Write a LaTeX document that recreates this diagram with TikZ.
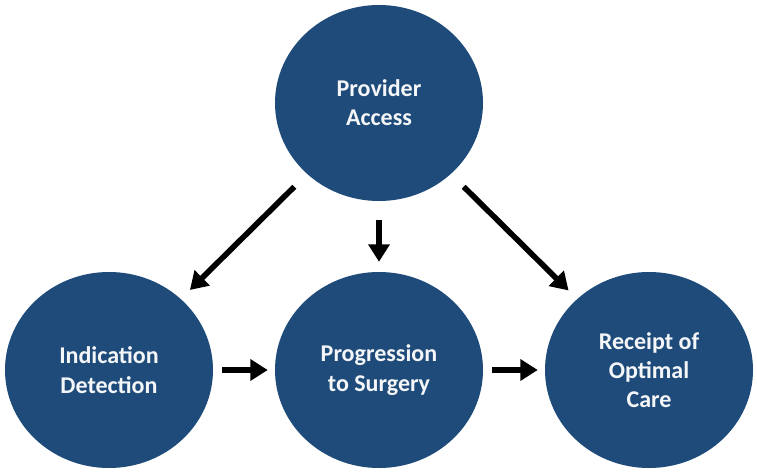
\documentclass[tikz,border=0pt]{standalone}
\usepackage{fontspec}
\setmainfont{Carlito}
\usepackage{xcolor}
\usetikzlibrary{arrows.meta, positioning, shapes.geometric}
\definecolor{stageblue}{RGB}{31,75,122}

\begin{document}
\begin{tikzpicture}[x=0.03cm, y=-0.03cm,
    stage/.style={ellipse, fill=stageblue, minimum width=6.24cm, minimum height=5.88cm,
        inner sep=0pt, text=white!95!stageblue, align=center, font=\bfseries\fontsize{20.5}{25}\selectfont},
    flow/.style={-{Triangle[length=0.52cm, width=0.62cm]}, line width=4.8pt, black}]
    \useasboundingbox (0, 0) rectangle (757, 472);

    \node[stage] (access) at (379, 103) {Provider\\Access};
    \node[stage] (detect) at (109, 370) {Indication\\Detection};
    \node[stage] (surgery) at (379, 370) {Progression\\to Surgery};
    \node[stage] (care) at (649, 370) {Receipt of\\Optimal\\Care};

    % Pfeile
    \draw[flow, shorten <=0.54cm, shorten >=0.38cm] (access) -- (detect);
    \draw[flow, shorten <=0.57cm, shorten >=0.30cm] (access) -- (surgery);
    \draw[flow, shorten <=0.54cm, shorten >=0.36cm] (access) -- (care);
    \draw[flow, shorten <=0.27cm, shorten >=0.21cm] (detect) -- (surgery);
    \draw[flow, shorten <=0.27cm, shorten >=0.21cm] (surgery) -- (care);
\end{tikzpicture}
\end{document}
